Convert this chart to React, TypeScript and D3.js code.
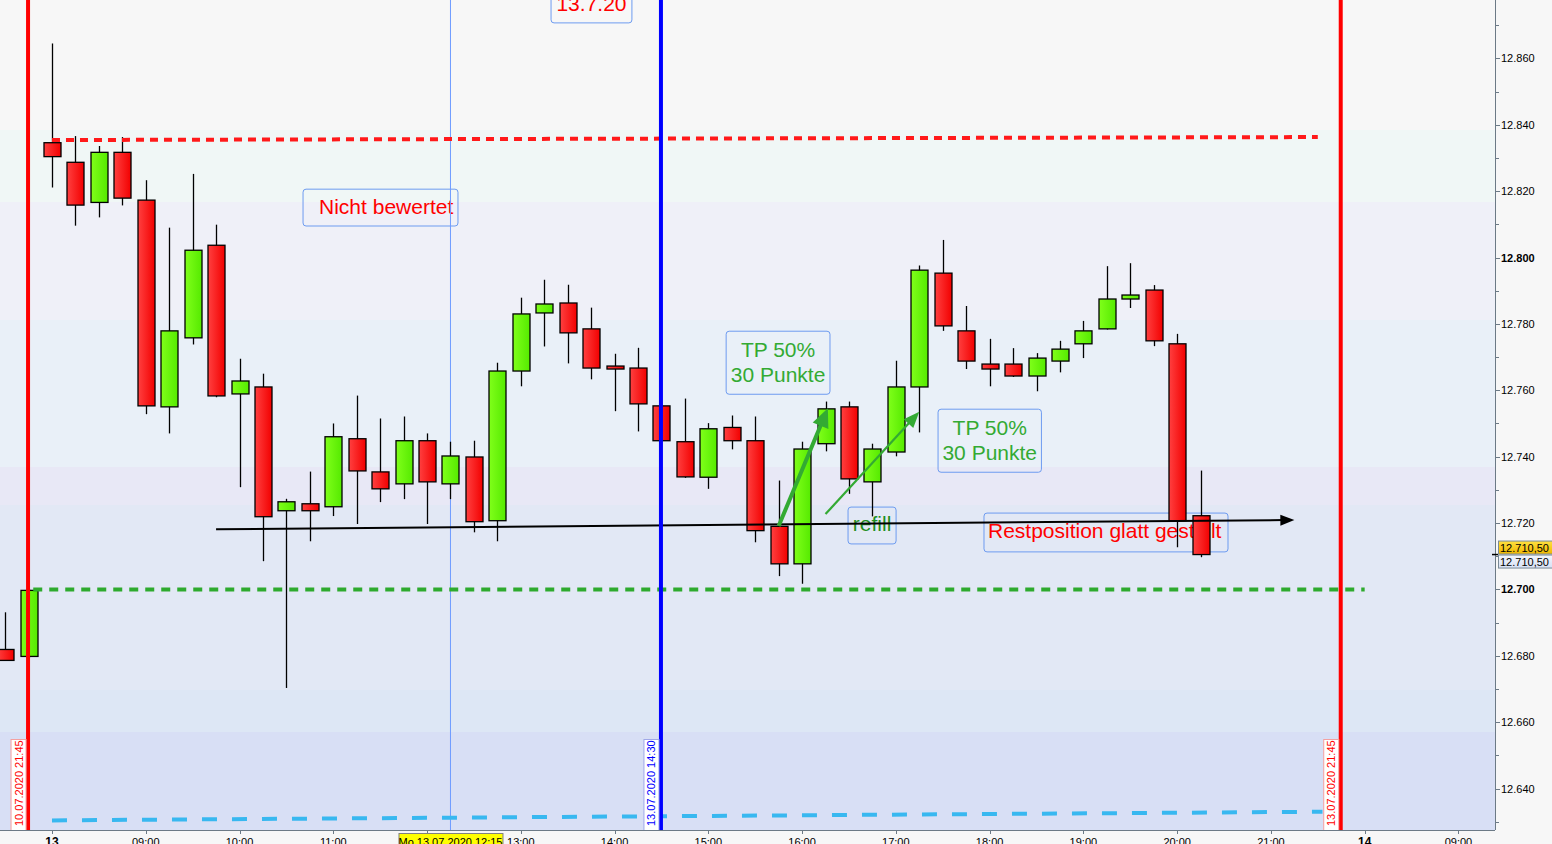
import React from 'react';
import * as d3 from 'd3';

// ---- data (index 0 = 13.07.2020 08:00, 15-minute candles) ----
const candleIndex = [-2, -1, 0, 1, 2, 3, 4, 5, 6, 7, 8, 9, 10, 11, 12, 13, 14, 15, 16, 17, 18, 19, 20, 21, 22, 23, 24, 25, 26, 27, 28, 29, 30, 31, 32, 33, 34, 35, 36, 37, 38, 39, 40, 41, 42, 43, 44, 45, 46, 47, 48, 49];
const opens = [12681.9, 12679.8, 12834.6, 12828.7, 12816.6, 12831.7, 12817.3, 12755.0, 12775.8, 12803.7, 12758.9, 12761.0, 12723.7, 12725.8, 12724.9, 12745.4, 12735.4, 12731.8, 12744.8, 12731.8, 12739.9, 12720.7, 12765.8, 12783.3, 12786.3, 12778.5, 12767.3, 12766.7, 12755.3, 12744.5, 12733.8, 12748.8, 12744.8, 12719.0, 12707.7, 12743.9, 12755.0, 12732.4, 12741.4, 12761.0, 12795.3, 12777.9, 12767.9, 12767.9, 12764.3, 12768.8, 12774.0, 12778.5, 12787.5, 12790.2, 12774.0, 12722.2];
const highs = [12693.1, 12700.0, 12864.5, 12836.6, 12833.6, 12836.3, 12823.3, 12809.0, 12825.2, 12809.9, 12769.5, 12765.0, 12727.3, 12735.5, 12750.0, 12758.4, 12751.5, 12752.1, 12747.0, 12744.5, 12744.8, 12768.3, 12787.9, 12793.3, 12791.8, 12784.9, 12771.0, 12772.8, 12755.6, 12757.5, 12750.1, 12752.4, 12752.1, 12732.8, 12744.5, 12756.6, 12756.6, 12743.9, 12768.9, 12797.6, 12805.3, 12785.4, 12775.5, 12772.7, 12771.2, 12774.9, 12780.9, 12797.4, 12798.3, 12791.7, 12777.0, 12735.8];
const lows = [12678.6, 12679.5, 12821.1, 12809.6, 12812.1, 12815.7, 12752.8, 12747.0, 12773.8, 12757.9, 12730.8, 12708.5, 12670.3, 12714.5, 12722.1, 12719.7, 12726.3, 12727.2, 12719.7, 12727.2, 12717.2, 12714.5, 12761.2, 12773.2, 12768.1, 12763.3, 12753.7, 12747.6, 12744.5, 12733.6, 12730.3, 12742.2, 12714.2, 12704.0, 12701.7, 12741.6, 12728.8, 12722.0, 12740.1, 12747.3, 12777.9, 12766.4, 12761.2, 12764.0, 12759.7, 12765.4, 12769.7, 12778.3, 12784.8, 12773.3, 12712.7, 12709.7];
const closes = [12678.6, 12699.7, 12830.4, 12815.8, 12831.7, 12817.9, 12755.3, 12777.9, 12802.2, 12758.3, 12762.8, 12721.9, 12726.4, 12723.7, 12746.0, 12735.7, 12730.3, 12744.8, 12732.4, 12740.2, 12720.4, 12765.8, 12783.0, 12786.0, 12777.3, 12766.7, 12766.4, 12755.9, 12744.8, 12733.9, 12748.4, 12744.8, 12717.7, 12707.7, 12742.3, 12754.4, 12733.3, 12742.3, 12761.0, 12796.2, 12779.4, 12768.8, 12766.4, 12764.3, 12769.7, 12772.4, 12777.9, 12787.5, 12788.7, 12774.9, 12720.7, 12710.5];

// the 12:00 label (index 16) is hidden by the cursor label in the reference
const xTickIndex = [0, 4, 8, 12, 16, 20, 24, 28, 32, 36, 40, 44, 48, 52, 56, 60];
const xTickLabels = ['13', '09:00', '10:00', '11:00', '', '13:00', '14:00', '15:00', '16:00', '17:00', '18:00', '19:00', '20:00', '21:00', '14', '09:00'];
const xTickBold = [true, false, false, false, false, false, false, false, false, false, false, false, false, false, true, false];

const yLabelValues = [12640, 12660, 12680, 12700, 12720, 12740, 12760, 12780, 12800, 12820, 12840, 12860];
const yMinorValues = [12630, 12650, 12670, 12690, 12710, 12730, 12750, 12770, 12790, 12810, 12830, 12850, 12870];
const yBoldValues = [12700, 12800];

const lastPrice = 12710.5;
const lastPriceLabel = '12.710,50';
const cursorLabel = 'Mo 13.07.2020 12:15';
const cursorIndex = 17;

const vLineIndex = [-1, 26, 55];
const vLineLabels = ['10.07.2020 21:45', '13.07.2020 14:30', '13.07.2020 21:45'];
const vLineColors = ['#ff0000', '#0000ff', '#ff0000'];

// horizontal dashed levels: [startIndex, startValue, endIndex, endValue]
const redLevel = [0, 12835.4, 54, 12836.3];
const greenLevel = [-0.8, 12700.0, 56, 12700.0];
const blueLevel = [0, 12630.4, 54.2, 12633.0];

// black trend arrow, green arrows [i1, v1, i2, v2]
const blackArrow = [7, 12718.1, 53, 12720.9];
const greenArrow1 = [31, 12719.1, 33.1, 12754.6];
const greenArrow2 = [33, 12722.7, 37, 12753.5];

// annotation boxes: [i0, i1, vTop, vBottom]
const annDate = [21.29, 24.74, 12879.1, 12870.7];
const annNicht = [10.71, 17.32, 12820.6, 12809.5];
const annTP1 = [28.76, 33.19, 12777.8, 12758.8];
const annTP2 = [37.8, 42.21, 12754.3, 12735.3];
const annRefill = [33.96, 36.01, 12724.8, 12713.7];
const annRest = [39.76, 50.17, 12723.0, 12711.3];

const FONT = '"Liberation Sans", Arial, sans-serif';

function arrowHead(x1: number, y1: number, x2: number, y2: number, len: number, w: number) {
  const dx = x2 - x1, dy = y2 - y1;
  const L = Math.sqrt(dx * dx + dy * dy);
  const ux = dx / L, uy = dy / L;
  const bx = x2 - ux * len, by = y2 - uy * len;
  const px = -uy * w / 2, py = ux * w / 2;
  return `${x2},${y2} ${bx + px},${by + py} ${bx - px},${by - py}`;
}

export default function App() {
  const W = 1552, H = 844, plotR = 1495, plotB = 830;
  const x = d3.scaleLinear().domain([-2.218, 61.56]).range([0, plotR]);
  const y = d3.scaleLinear().domain([12627.5, 12877.6]).range([plotB, 0]);
  const bodyW = 17;
  const annFont = 21;

  const bands: [number, number, string][] = [
    [0, 130, '#f7f7f7'], [130, 202, '#f0f7f6'], [202, 320, '#eff0f8'], [320, 467, '#e9f0f8'],
    [467, 505, '#e8e8f6'], [505, 690, '#e2e8f5'], [690, 732, '#dde7f5'], [732, plotB, '#d8dff5'],
  ];

  const fmt = (v: number) => d3.format(',')(v).replace(/,/g, '.');

  const box = (a: number[], key: string) => (
    <rect key={key} x={x(a[0])} y={y(a[2])} width={x(a[1]) - x(a[0])} height={y(a[3]) - y(a[2])}
      rx={3} fill="none" stroke="#6d9bf0" strokeWidth={1} />
  );

  const line = (a: number[]) => ({ x1: x(a[0]), y1: y(a[1]), x2: x(a[2]), y2: y(a[3]) });

  const ba = line(blackArrow), g1 = line(greenArrow1), g2 = line(greenArrow2);
  const green = '#33aa33';

  return (
    <svg width={W} height={H} style={{ position: 'fixed', left: 0, top: 0, display: 'block', background: '#f7f7f7' }}
      fontFamily={FONT}>
      <defs>
        <linearGradient id="redG" x1="0" x2="1" y1="0" y2="0">
          <stop offset="0" stopColor="#ff4040" />
          <stop offset="1" stopColor="#f20000" />
        </linearGradient>
        <linearGradient id="greenG" x1="0" x2="1" y1="0" y2="0">
          <stop offset="0" stopColor="#80ff1a" />
          <stop offset="1" stopColor="#55ea00" />
        </linearGradient>
        <linearGradient id="yelG" x1="0" x2="0" y1="0" y2="1">
          <stop offset="0" stopColor="#ffe040" />
          <stop offset="1" stopColor="#f0b800" />
        </linearGradient>
        <linearGradient id="bluG" x1="0" x2="0" y1="0" y2="1">
          <stop offset="0" stopColor="#f4f7fd" />
          <stop offset="1" stopColor="#d6e0f4" />
        </linearGradient>
        <clipPath id="plotClip"><rect x={0} y={0} width={plotR} height={plotB} /></clipPath>
      </defs>

      <rect x={0} y={0} width={W} height={H} fill="#f7f7f7" />
      {bands.map(([a, b, c], k) => <rect key={k} x={0} y={a} width={plotR} height={b - a} fill={c} />)}

      <g clipPath="url(#plotClip)">
        {box(annDate, 'd')}
        {box(annNicht, 'n')}
        {box(annTP1, 't1')}
        {box(annTP2, 't2')}
        {box(annRefill, 'r')}
        {box(annRest, 'rp')}
        <text x={(x(annDate[0]) + x(annDate[1])) / 2} y={y(annDate[3]) - 12} fontSize={annFont} fill="#ff0000" textAnchor="middle">13.7.20</text>
        <text x={x(annNicht[0]) + 16} y={y(annNicht[3]) - 12} fontSize={annFont} fill="#ff0000">Nicht bewertet</text>
        <text x={(x(annTP1[0]) + x(annTP1[1])) / 2} y={y(annTP1[2]) + 26} fontSize={annFont} fill={green} textAnchor="middle">TP 50%</text>
        <text x={(x(annTP1[0]) + x(annTP1[1])) / 2} y={y(annTP1[2]) + 51} fontSize={annFont} fill={green} textAnchor="middle">30 Punkte</text>
        <text x={(x(annTP2[0]) + x(annTP2[1])) / 2} y={y(annTP2[2]) + 26} fontSize={annFont} fill={green} textAnchor="middle">TP 50%</text>
        <text x={(x(annTP2[0]) + x(annTP2[1])) / 2} y={y(annTP2[2]) + 51} fontSize={annFont} fill={green} textAnchor="middle">30 Punkte</text>
        <text x={(x(annRefill[0]) + x(annRefill[1])) / 2} y={y(annRefill[2]) + 24} fontSize={annFont} fill="#1f8f1f" textAnchor="middle">refill</text>
        <text x={x(annRest[0]) + 4} y={y(annRest[2]) + 25} fontSize={annFont} fill="#ff0000">Restposition glatt gestellt</text>

        <line x1={x(cursorIndex)} x2={x(cursorIndex)} y1={0} y2={plotB} stroke="#6f9cff" strokeWidth={1} />

        {candleIndex.map((idx, k) => {
          const o = opens[k], c = closes[k], h = highs[k], l = lows[k];
          const up = c >= o;
          const cx = Math.round(x(idx)) + 0.5;
          const top = y(Math.max(o, c)), bot = y(Math.min(o, c));
          return (
            <g key={idx}>
              <line x1={cx} x2={cx} y1={y(h)} y2={y(l)} stroke="#000" strokeWidth={1.3} />
              <rect x={cx - bodyW / 2} y={top} width={bodyW} height={Math.max(1.5, bot - top)}
                fill={up ? 'url(#greenG)' : 'url(#redG)'} stroke="#000" strokeWidth={1.3} />
            </g>
          );
        })}

        <line {...line(redLevel)} stroke="#ff1a1a" strokeWidth={4} strokeDasharray="8 6" />
        <line {...line(greenLevel)} stroke="#2eaa2e" strokeWidth={4} strokeDasharray="9 7" />
        <line {...line(blueLevel)} stroke="#38b8f0" strokeWidth={4} strokeDasharray="15 15" />

        <line x1={ba.x1} y1={ba.y1} x2={ba.x2 - 10} y2={ba.y2} stroke="#000" strokeWidth={2} />
        <polygon points={arrowHead(ba.x1, ba.y1, ba.x2, ba.y2, 14, 11)} fill="#000" />

        <line x1={g1.x1} y1={g1.y1} x2={g1.x1 + (g1.x2 - g1.x1) * 0.88} y2={g1.y1 + (g1.y2 - g1.y1) * 0.88} stroke={green} strokeWidth={4} />
        <polygon points={arrowHead(g1.x1, g1.y1, g1.x2, g1.y2, 19, 17)} fill={green} />
        <line x1={g2.x1} y1={g2.y1} x2={g2.x1 + (g2.x2 - g2.x1) * 0.9} y2={g2.y1 + (g2.y2 - g2.y1) * 0.9} stroke={green} strokeWidth={2.2} />
        <polygon points={arrowHead(g2.x1, g2.y1, g2.x2, g2.y2, 16, 13)} fill={green} />

        {vLineIndex.map((idx, k) => (
          <g key={'v' + k}>
            <line x1={x(idx) - 0.5} x2={x(idx) - 0.5} y1={0} y2={plotB} stroke={vLineColors[k]} strokeWidth={4} />
            <rect x={x(idx) - 17.5} y={739.5} width={15} height={92} fill="#ffffff"
              stroke={k === 1 ? '#a0a8e8' : '#f4a0a0'} strokeWidth={1} />
            <text transform={`translate(${x(idx) - 6},${826}) rotate(-90)`} fontSize={11}
              fill={vLineColors[k]}>{vLineLabels[k]}</text>
          </g>
        ))}
      </g>

      <line x1={0} x2={plotR} y1={plotB + 0.5} y2={plotB + 0.5} stroke="#6c7a86" strokeWidth={1} />
      <line x1={plotR + 0.5} x2={plotR + 0.5} y1={0} y2={plotB} stroke="#6c7a86" strokeWidth={1} />

      {yMinorValues.map(v => (
        <line key={'m' + v} x1={plotR} x2={plotR + 4} y1={Math.round(y(v)) + 0.5} y2={Math.round(y(v)) + 0.5} stroke="#6c7a86" />
      ))}
      {yLabelValues.map(v => (
        <g key={'y' + v}>
          <line x1={plotR} x2={plotR + 5} y1={Math.round(y(v)) + 0.5} y2={Math.round(y(v)) + 0.5} stroke="#6c7a86" />
          <text x={plotR + 6} y={y(v) + 4} fontSize={11}
            fontWeight={yBoldValues.includes(v) ? 'bold' : 'normal'} fill="#000">{fmt(v)}</text>
        </g>
      ))}

      <line x1={plotR - 3} x2={plotR + 3} y1={y(lastPrice)} y2={y(lastPrice)} stroke="#000" strokeWidth={1.5} />
      <rect x={plotR + 3.5} y={y(lastPrice) - 13.5} width={55} height={13} fill="url(#yelG)" stroke="#7a8a96" />
      <text x={plotR + 5} y={y(lastPrice) - 3} fontSize={11} fill="#000">{lastPriceLabel}</text>
      <rect x={plotR + 3.5} y={y(lastPrice) + 0.5} width={55} height={13} fill="url(#bluG)" stroke="#7a8a96" />
      <text x={plotR + 5} y={y(lastPrice) + 11} fontSize={11} fill="#000">{lastPriceLabel}</text>

      {xTickIndex.map((idx, k) => (
        <g key={'x' + k}>
          <line x1={Math.round(x(idx)) + 0.5} x2={Math.round(x(idx)) + 0.5} y1={plotB} y2={plotB + 4} stroke="#6c7a86" />
          {xTickLabels[k] !== '' && (
            <text x={x(idx)} y={H + 2} fontSize={xTickBold[k] ? 12 : 11} fontWeight={xTickBold[k] ? 'bold' : 'normal'}
              textAnchor="middle" fill="#000">{xTickLabels[k]}</text>
          )}
        </g>
      ))}

      <rect x={x(cursorIndex) - 51.5} y={833.5} width={104} height={14} fill="#ffff00" stroke="#808080" />
      <text x={x(cursorIndex)} y={H + 2} fontSize={11} textAnchor="middle" fill="#000">{cursorLabel}</text>
    </svg>
  );
}
